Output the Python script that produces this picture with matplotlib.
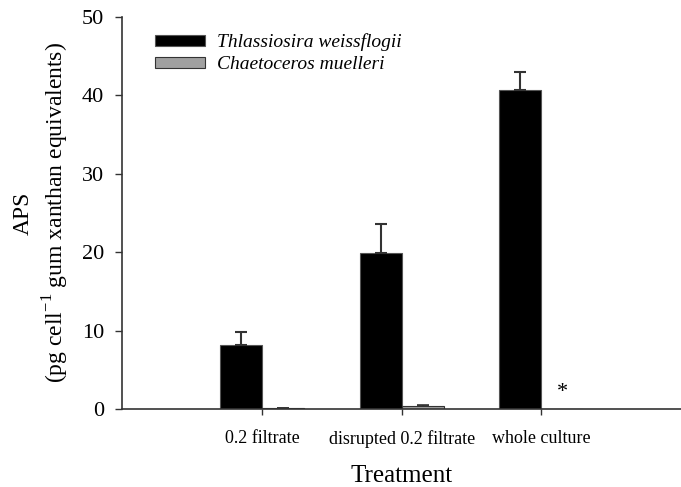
import numpy as np
import matplotlib
matplotlib.use("Agg")
import matplotlib.pyplot as plt

plt.rcParams['font.family'] = ['Liberation Serif', 'DejaVu Serif']
plt.rcParams['mathtext.fontset'] = 'custom'
plt.rcParams['mathtext.rm'] = 'Liberation Serif'

treatments = ["0.2 filtrate", "disrupted 0.2 filtrate", "whole culture"]
species = ["Thlassiosira weissflogii", "Chaetoceros muelleri"]
thal_mean = [8.2, 19.9, 40.7]
thal_se = [1.6, 3.7, 2.3]
chaet_mean = [0.1, 0.4, 0.0]
chaet_se = [0.05, 0.1, 0.0]
nd_marker = "*"   # no data for C. muelleri whole culture

x = np.arange(1, len(treatments) + 1)
w = 0.3

fig = plt.figure(figsize=(6.81, 4.87), dpi=100)
ax = fig.add_axes([0.1796, 0.1596, 0.8204, 0.8061])

ax.bar(x - w/2, thal_mean, w, color='black', edgecolor='#555555', linewidth=0.8,
       label=species[0], zorder=2)
ax.errorbar(x - w/2, thal_mean, yerr=[np.zeros(3), thal_se], fmt='none',
            ecolor='#333333', elinewidth=1.5, capsize=4.3, capthick=1.5, zorder=3)
ax.bar(x + w/2, chaet_mean, w, color='#a0a0a0', edgecolor='#333333', linewidth=0.8,
       label=species[1], zorder=2)
ax.errorbar((x + w/2)[:2], chaet_mean[:2], yerr=[np.zeros(2), chaet_se[:2]], fmt='none',
            ecolor='#333333', elinewidth=1.2, capsize=4.3, capthick=1.2, zorder=3)
ax.text(x[2] + w/2, 0.9, nd_marker, ha='center', va='bottom', fontsize=16)

ax.set_xlim(0, 4)
ax.set_ylim(0, 50)
ax.set_yticks([0, 10, 20, 30, 40, 50])
ax.set_xticks(x)
ax.set_xticklabels(treatments, fontsize=13)
ax.tick_params(axis='y', labelsize=16, length=5, width=1, pad=8, color='#333333')
ax.tick_params(axis='x', length=4, width=1, pad=11, color='#333333')
for s in ['top', 'right']:
    ax.spines[s].set_visible(False)
for s in ['left', 'bottom']:
    ax.spines[s].set_linewidth(1.2)
    ax.spines[s].set_color('#333333')

ax.set_xlabel("Treatment", fontsize=18, labelpad=12)
ax.set_ylabel("APS\n(pg cell$^{\\mathregular{-1}}$ gum xanthan equivalents)",
              fontsize=17, linespacing=1.3, labelpad=8)

leg = ax.legend(loc='upper left', bbox_to_anchor=(0.058, 0.957), frameon=False,
                borderpad=0, borderaxespad=0, handlelength=2.6, handleheight=0.55,
                handletextpad=0.6, labelspacing=0.25,
                prop={'style': 'italic', 'size': 14})

fig.savefig("out.png", dpi=100)
